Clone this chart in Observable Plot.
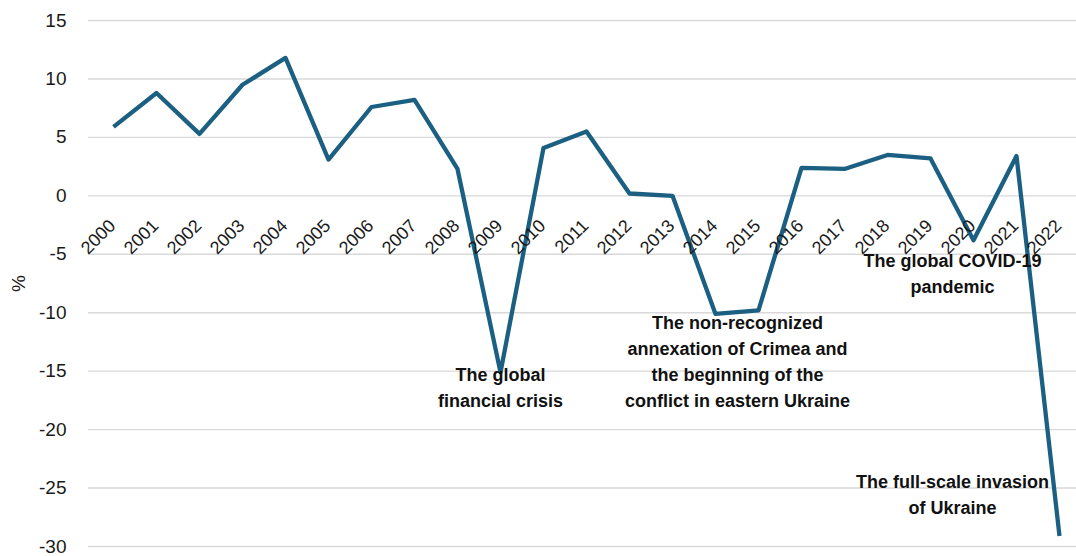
<!DOCTYPE html>
<html>
<head>
<meta charset="utf-8">
<script src="https://cdn.jsdelivr.net/npm/d3@7"></script>
<script src="https://cdn.jsdelivr.net/npm/@observablehq/plot@0.6"></script>
<style>
  html, body { margin: 0; padding: 0; background: #fff; }
  #chart { width: 1076px; height: 556px; }
</style>
</head>
<body>
<div id="chart"></div>
<script>
// ---- data ----
const years = ["2000","2001","2002","2003","2004","2005","2006","2007","2008","2009","2010","2011",
               "2012","2013","2014","2015","2016","2017","2018","2019","2020","2021","2022"];
const growth = [5.9, 8.8, 5.3, 9.5, 11.8, 3.1, 7.6, 8.2, 2.3, -15.1, 4.1, 5.5,
                0.2, 0.0, -10.1, -9.8, 2.4, 2.3, 3.5, 3.2, -3.8, 3.4, -29.1];
const yTicks = [-30, -25, -20, -15, -10, -5, 0, 5, 10, 15];
const yLabel = "%";

const annotationYears = ["2009", "2014", "2019", "2019"];
const annotationValues = [-16.2, -14.0, -6.5, -25.4];
const annotationTexts = [
  "The global\nfinancial crisis",
  "The non-recognized\nannexation of Crimea and\nthe beginning of the\nconflict in eastern Ukraine",
  "The global COVID-19\npandemic",
  "The full-scale invasion\nof Ukraine"
];
const annotationShift = [0, 1, 1, 1]; // 0: centred on year, 1: between year and next

// ---- build ----
const series = years.map((year, i) => ({year, value: growth[i]}));
const annotations = annotationYears.map((year, i) => ({
  year, value: annotationValues[i], text: annotationTexts[i], shift: annotationShift[i]
}));

const lineColor = "#1b6082";
const font = "'Liberation Sans', Arial, sans-serif";

const plot = Plot.plot({
  width: 1076,
  height: 556,
  marginLeft: 88,
  marginRight: 0,
  marginTop: 20,
  marginBottom: 10,
  style: {fontFamily: font, fontSize: "19px", color: "#1a1a1a", background: "#fff", overflow: "visible"},
  x: {type: "point", domain: years, range: [110, 1062], padding: 0, axis: null},
  y: {domain: [-30, 15], ticks: yTicks},
  marks: [
    Plot.gridY(yTicks, {stroke: "#d9d9d9", strokeOpacity: 1, strokeWidth: 1.4}),
    Plot.axisY(yTicks, {
      tickSize: 0, tickPadding: 22, fontSize: 19, fill: "#1a1a1a",
      tickFormat: d => String(d),
      label: yLabel, labelAnchor: "center", labelOffset: 77, labelArrow: "none"
    }),
    Plot.line(series, {x: "year", y: "value", stroke: lineColor, strokeWidth: 4.3,
      strokeLinejoin: "round", strokeLinecap: "butt"}),
    Plot.text(years, {
      x: d => d, y: 0, text: d => d, rotate: -45, textAnchor: "end", lineAnchor: "bottom",
      dx: 3, dy: 31, fontSize: 18, fill: "#1a1a1a"
    }),
    Plot.text(annotations.filter(d => d.shift === 0), {
      x: "year", y: "value", text: "text", textAnchor: "middle", lineAnchor: "middle",
      lineHeight: 1.45, fontSize: 18, fontWeight: "bold", fill: "#111"
    }),
    Plot.text(annotations.filter(d => d.shift === 1), {
      x: "year", y: "value", text: "text", textAnchor: "middle", lineAnchor: "middle",
      lineHeight: 1.45, fontSize: 18, fontWeight: "bold", fill: "#111", dx: 22
    })
  ]
});
document.getElementById("chart").appendChild(plot);
</script>
</body>
</html>
